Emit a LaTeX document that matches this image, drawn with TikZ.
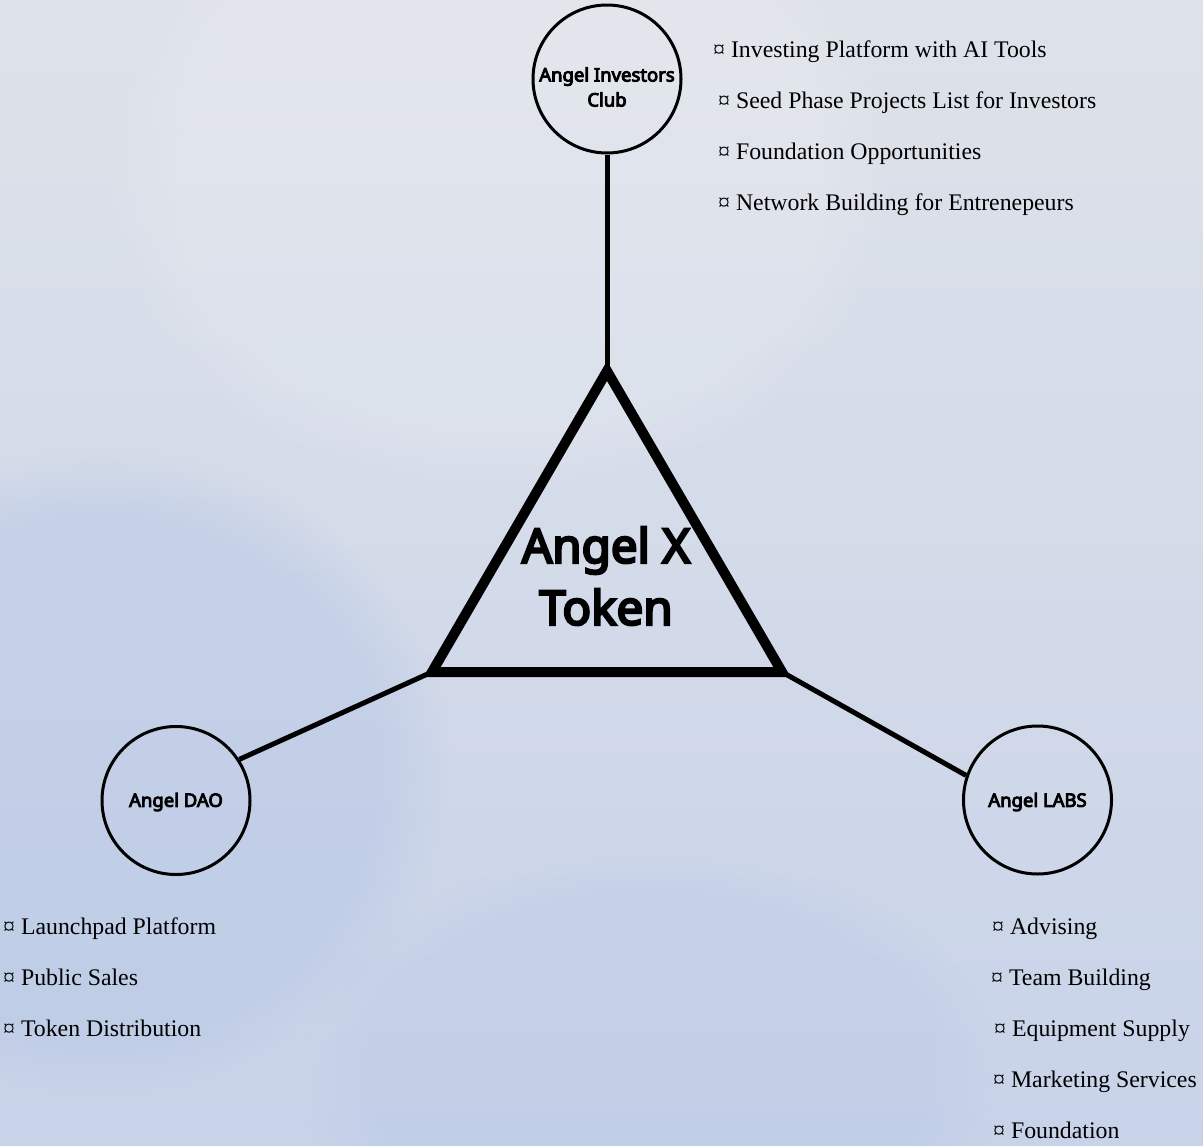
\documentclass[tikz,border=0pt]{standalone}
\usepackage{fontspec}
\setmainfont{Liberation Serif}
\newfontfamily\headfont{Noto Sans}[FakeBold=5]
\usetikzlibrary{fadings}
\definecolor{bgtop}{RGB}{222,226,233}
\definecolor{bgbot}{RGB}{200,211,233}
\definecolor{bgblue}{RGB}{172,192,228}
\tikzset{
  hub/.style={circle, draw=black, line width=3pt, minimum size=148pt, inner sep=0pt},
  hubtext/.style={font=\headfont\bfseries\fontsize{18.5}{25}\selectfont, align=center, inner sep=0pt},
  link/.style={draw=black, line width=5pt},
  item/.style={font=\fontsize{23.8}{28}\selectfont, anchor=base west, inner sep=0pt}
}
\begin{document}
\begin{tikzpicture}[x=1pt,y=-1pt]
\useasboundingbox (0,0) rectangle (1203,1146);
% background
\shade[top color=bgtop, bottom color=bgbot] (0,0) rectangle (1203,1146);
\fill[bgblue, opacity=0.35, path fading=circle with fuzzy edge 20 percent] (-250,450) rectangle (450,1100);
\fill[bgblue, opacity=0.22, path fading=circle with fuzzy edge 20 percent] (300,850) rectangle (1000,1300);
\fill[white, opacity=0.15, path fading=circle with fuzzy edge 20 percent] (100,-150) rectangle (900,500);

% triangle vertices
\coordinate (apex) at (607,371);
\coordinate (bl) at (432,672);
\coordinate (br) at (782,672);

% circles
\node[hub] (club) at (607,79) {};
\node[hub] (dao) at (176,800.5) {};
\node[hub] (labs) at (1037.5,800) {};
\node[hubtext] (clubtxt) at (607,87) {Angel Investors\\Club};
\node[hubtext] (daotxt) at (176,802) {Angel DAO};
\node[hubtext] (labstxt) at (1037.5,802) {Angel LABS};

% connectors
\draw[link] (club.south) -- (apex);
\draw[link] (dao.33) -- (bl);
\draw[link] (labs.161) -- (br);

% triangle
\draw[line width=10pt, line join=miter] (apex) -- (bl) -- (br) -- cycle;
\node[font=\headfont\bfseries\fontsize{47.5}{62}\selectfont, align=center, inner sep=0pt] (token) at (606,576) {Angel X\\Token};

% top list
\node[item] (t1) at (713,57) {¤ Investing Platform with AI Tools};
\node[item] (t2) at (718,108) {¤ Seed Phase Projects List for Investors};
\node[item] (t3) at (718,159) {¤ Foundation Opportunities};
\node[item] (t4) at (718,210) {¤ Network Building for Entrenepeurs};

% left list
\node[item] (l1) at (3,934) {¤ Launchpad Platform};
\node[item] (l2) at (3,985) {¤ Public Sales};
\node[item] (l3) at (3,1036) {¤ Token Distribution};

% right list
\node[item] (r1) at (992,934) {¤ Advising};
\node[item] (r2) at (991,985) {¤ Team Building};
\node[item] (r3) at (994,1036) {¤ Equipment Supply};
\node[item] (r4) at (993,1087) {¤ Marketing Services};
\node[item] (r5) at (993,1138) {¤ Foundation};
\end{tikzpicture}
\end{document}
